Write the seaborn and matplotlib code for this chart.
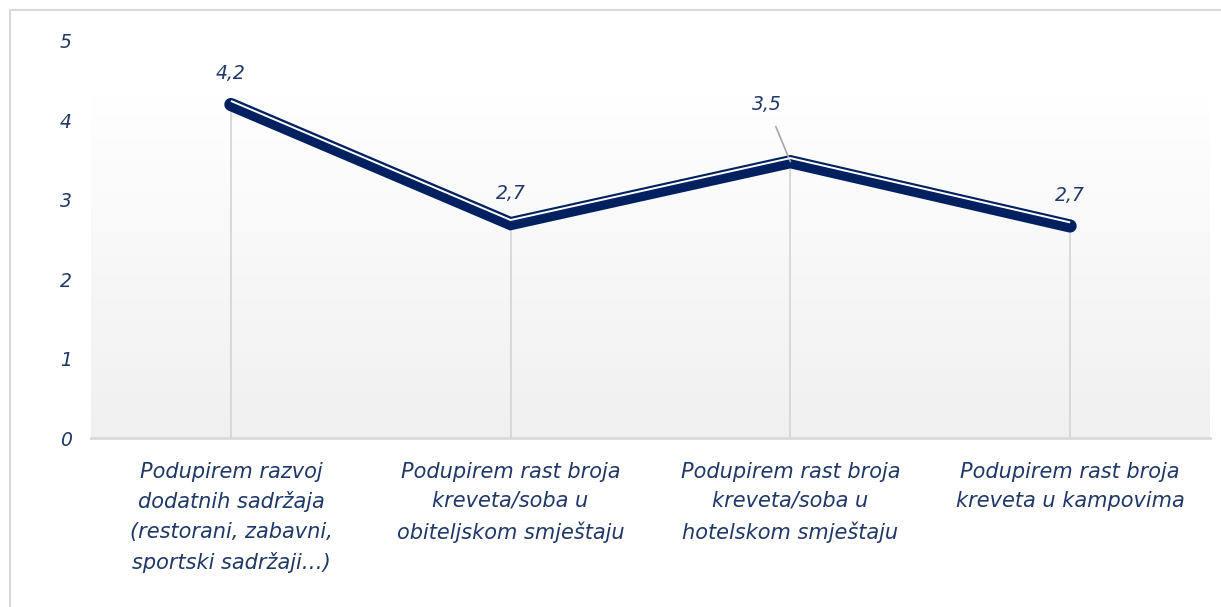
import numpy as np
import pandas as pd
import seaborn as sns
import matplotlib.pyplot as plt
import matplotlib.transforms as mtransforms
from matplotlib.colors import LinearSegmentedColormap
from matplotlib.lines import Line2D

categories = [
    "Podupirem razvoj\ndodatnih sadržaja\n(restorani, zabavni,\nsportski sadržaji…)",
    "Podupirem rast broja\nkreveta/soba u\nobiteljskom smještaju",
    "Podupirem rast broja\nkreveta/soba u\nhotelskom smještaju",
    "Podupirem rast broja\nkreveta u kampovima",
]
values = [4.2, 2.7, 3.48, 2.67]
y_ticks = [0, 1, 2, 3, 4, 5]

NAVY = "#002060"
TEXT = "#1F3868"

sns.set_theme(style="white")
plt.rcParams['font.family'] = ['DejaVu Sans']

df = pd.DataFrame({"pos": range(len(categories)), "value": values})

fig = plt.figure(figsize=(12.21, 6.07), dpi=100)
ax = fig.add_axes([91 / 1221, 1 - 438 / 607, (1210 - 91) / 1221, (438 - 41) / 607])

# back wall: white at the top fading to light grey at the floor
wall_top = (438 - 92) / (438 - 41)
grad = np.linspace(0, 1, 256).reshape(-1, 1)
ax.imshow(grad, cmap=LinearSegmentedColormap.from_list("wall", ["#f0f0f0", "#ffffff"]),
          origin="lower", aspect="auto", extent=(0, 1, 0, wall_top),
          transform=ax.transAxes, zorder=0)

# drop lines
ax.vlines(df["pos"], 0, df["value"], color="#d6d6d6", lw=1.3, zorder=1)

# ribbon line: thick navy body with a white highlight near its top edge
sns.lineplot(data=df, x="pos", y="value", ax=ax, color=NAVY, lw=9.5,
             solid_capstyle="round", solid_joinstyle="miter", zorder=3)
hl = mtransforms.offset_copy(ax.transData, fig=fig, x=0, y=2.6, units="points")
ax.plot(df["pos"], df["value"], color="white", lw=1.4, transform=hl, zorder=4,
        solid_capstyle="butt")

# data labels
for i, v in enumerate(values):
    lbl = f"{v:.1f}".replace(".", ",")
    if i == 2:
        ax.annotate(lbl, (i, v), xytext=(-17, 41), textcoords="offset points",
                    ha="center", va="center", fontsize=13.5, style="italic", color=TEXT,
                    arrowprops=dict(arrowstyle="-", color="#a6a6a6", lw=1.2,
                                    shrinkA=7, shrinkB=0))
    else:
        ax.annotate(lbl, (i, v), xytext=(0, 22), textcoords="offset points",
                    ha="center", va="center", fontsize=13.5, style="italic", color=TEXT)

ax.set_xlim(-0.5, len(categories) - 0.5)
ax.set_ylim(0, 5)
ax.set_yticks(y_ticks)
ax.set_yticklabels([str(t) for t in y_ticks], fontsize=13.5, style="italic", color=TEXT)
ax.set_xticks(range(len(categories)))
ax.set_xticklabels(categories, fontsize=15, style="italic", color=TEXT,
                   linespacing=1.58)
ax.tick_params(axis="y", length=0, pad=14)
ax.tick_params(axis="x", length=0, pad=17)
ax.set_xlabel("")
ax.set_ylabel("")
ax.grid(False)
for side in ["top", "right", "left"]:
    ax.spines[side].set_visible(False)
ax.spines["bottom"].set_color("#d9d9d9")
ax.spines["bottom"].set_linewidth(2)
ax.patch.set_alpha(0)

# outer chart frame: only the top and left edges fall inside the picture
fx, fy = 10 / 1221, 1 - 10 / 607
fig.add_artist(Line2D([fx, 1], [fy, fy], transform=fig.transFigure,
                      color="#d9d9d9", lw=1.5))
fig.add_artist(Line2D([fx, fx], [0, fy], transform=fig.transFigure,
                      color="#d9d9d9", lw=1.5))

fig.savefig("out.png", dpi=100)
